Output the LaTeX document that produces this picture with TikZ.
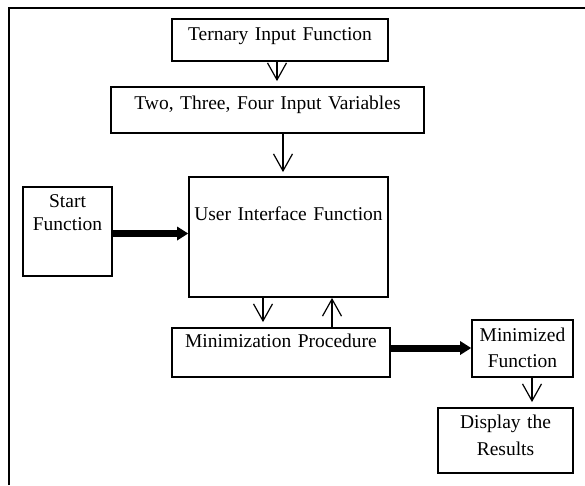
\documentclass[tikz,border=0pt]{standalone}
\usepackage{fontspec}
\setmainfont{Liberation Serif}
\usetikzlibrary{arrows.meta}

\begin{document}
\begin{tikzpicture}[x=1pt,y=-1pt,
  blk/.style={draw, line width=1.8pt, inner sep=0pt, align=center, font=\fontsize{19.5}{23}\selectfont},
  thinarrow/.style={line width=1.2pt, -{Straight Barb[length=17pt,width=19pt]}},
  fatarrow/.style={line width=7pt, -{Triangle[length=11pt,width=14pt,line width=0pt]}}]
\useasboundingbox (0,0) rectangle (585,485);
\draw[line width=1.8pt] (9,485) -- (9,8) -- (585,8);
\node[blk, text width=216pt, text height=21.5pt, text depth=20.5pt] (ternary) at (280,40) {Ternary Input Function};
\node[blk, text width=313pt, text height=22pt, text depth=24pt] (vars) at (267.5,110) {Two, Three, Four Input Variables};
\node[blk, text width=199pt, text height=43pt, text depth=77pt] (ui) at (288.5,237) {User Interface Function};
\node[blk, text width=89pt, text height=20pt, text depth=69pt] (start) at (67.5,231.5) {Start\\Function};
\node[blk, text width=218pt, text height=19pt, text depth=30pt] (proc) at (281,352.5) {Minimization Procedure};
\node[blk, text width=101pt, text height=21pt, text depth=36pt] (minfn) at (522.5,348.5) {Minimized\\[3pt]Function};
\node[blk, text width=135pt, text height=20pt, text depth=45pt] (result) at (505.5,440.5) {Display the\\[4pt]Results};
\draw[thinarrow, shorten >=5pt] ([xshift=-3pt]ternary.south) -- ([xshift=9.5pt]vars.north);
\draw[thinarrow, shorten >=4pt] ([xshift=15.5pt]vars.south) -- ([xshift=-5.5pt]ui.north);
\draw[fatarrow] ([yshift=-2pt]start.east) -- ([yshift=3.5pt]ui.west);
\draw[thinarrow, shorten >=5pt] ([xshift=-25.5pt]ui.south) -- ([xshift=-18pt]proc.north);
\draw[thinarrow] ([xshift=51pt]proc.north) -- ([xshift=43.5pt]ui.south);
\draw[fatarrow] ([yshift=4.5pt]proc.east) -- ([yshift=0.5pt]minfn.west);
\draw[thinarrow, shorten >=5pt] ([xshift=9.5pt]minfn.south) -- ([xshift=26.5pt]result.north);
\end{tikzpicture}
\end{document}
